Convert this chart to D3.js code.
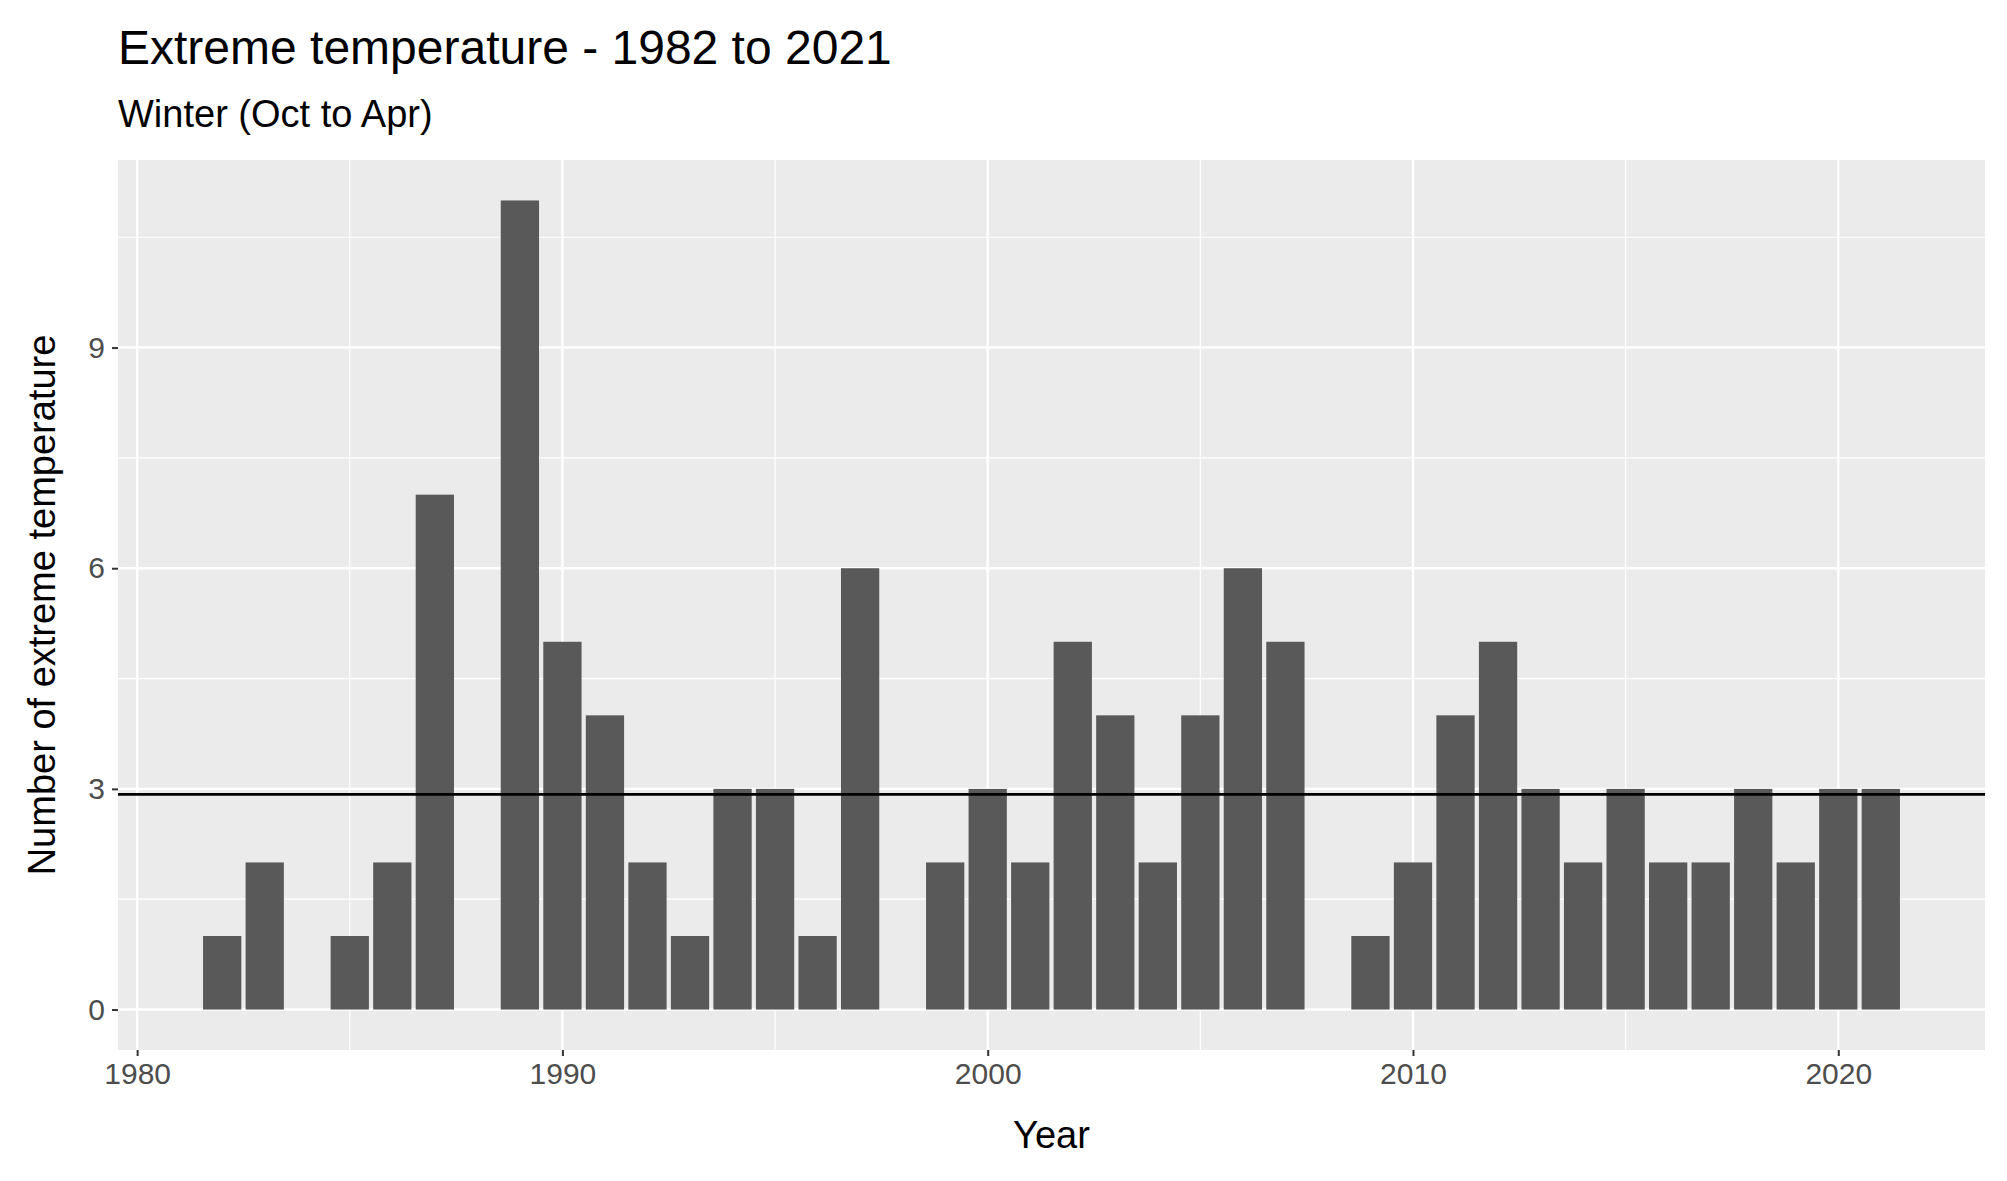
<!DOCTYPE html>
<html><head><meta charset="utf-8">
<script src="https://cdn.jsdelivr.net/npm/d3@7"></script>
<style>body{margin:0;background:#fff}text{font-family:"Liberation Sans",Arial,sans-serif}</style>
</head><body><div id="chart"></div>
<script>
var years = [1982,1983,1985,1986,1987,1989,1990,1991,1992,1993,1994,1995,1996,1997,1999,2000,2001,2002,2003,2004,2005,2006,2007,2009,2010,2011,2012,2013,2014,2015,2016,2017,2018,2019,2020,2021];
var counts = [1,2,1,2,7,11,5,4,2,1,3,3,1,6,2,3,2,5,4,2,4,6,5,1,2,4,5,3,2,3,2,2,3,2,3,3];
var xTicks = [1980,1990,2000,2010,2020];
var yTicks = [0,3,6,9];
var nSeasons = 40; // 1982 to 2021
var meanCount = d3.sum(counts)/nSeasons;

var W=2007,H=1181, L=118,R=1985,T=160,B=1050;
var svg=d3.select("#chart").append("svg").attr("width",W).attr("height",H);
var x=d3.scaleLinear().domain([1979.55,2023.45]).range([L,R]);
var y=d3.scaleLinear().domain([-0.55,11.55]).range([B,T]);

svg.append("rect").attr("x",L).attr("y",T).attr("width",R-L).attr("height",B-T).attr("fill","#ebebeb");
var g=svg.append("g");
// minor grid
var xm=[1985,1995,2005,2015], ym=[1.5,4.5,7.5,10.5];
g.selectAll(".xm").data(xm).enter().append("line").attr("x1",x).attr("x2",x).attr("y1",T).attr("y2",B).attr("stroke","#fff").attr("stroke-width",1.2);
g.selectAll(".ym").data(ym).enter().append("line").attr("y1",y).attr("y2",y).attr("x1",L).attr("x2",R).attr("stroke","#fff").attr("stroke-width",1.2);
g.selectAll(".xM").data(xTicks).enter().append("line").attr("x1",x).attr("x2",x).attr("y1",T).attr("y2",B).attr("stroke","#fff").attr("stroke-width",2.4);
g.selectAll(".yM").data(yTicks).enter().append("line").attr("y1",y).attr("y2",y).attr("x1",L).attr("x2",R).attr("stroke","#fff").attr("stroke-width",2.4);

svg.selectAll(".bar").data(years).enter().append("rect")
 .attr("x",function(d){return x(d-0.45);}).attr("width",x(0.9)-x(0))
 .attr("y",function(d,i){return y(counts[i]);}).attr("height",function(d,i){return y(0)-y(counts[i]);})
 .attr("fill","#595959");

svg.append("line").attr("x1",L).attr("x2",R).attr("y1",y(meanCount)).attr("y2",y(meanCount)).attr("stroke","#000").attr("stroke-width",2.8);

var xa=svg.append("g").attr("transform","translate(0,"+B+")").call(d3.axisBottom(x).tickValues(xTicks).tickFormat(d3.format("d")).tickSize(6).tickPadding(7));
var ya=svg.append("g").attr("transform","translate("+L+",0)").call(d3.axisLeft(y).tickValues(yTicks).tickSize(6).tickPadding(7));
[xa,ya].forEach(function(a){a.select(".domain").remove();a.selectAll("line").attr("stroke","#333").attr("stroke-width",2);a.selectAll("text").attr("fill","#4d4d4d").style("font-size","30px").style("font-family","Liberation Sans, Arial");});

svg.append("text").attr("x",(L+R)/2).attr("y",1148).attr("text-anchor","middle").style("font-size","38px").text("Year");
svg.append("text").attr("transform","translate(55,"+(T+B)/2+") rotate(-90)").attr("text-anchor","middle").style("font-size","38px").text("Number of extreme temperature");
svg.append("text").attr("x",118).attr("y",64).style("font-size","48px").text("Extreme temperature - 1982 to 2021");
svg.append("text").attr("x",118).attr("y",127).style("font-size","38px").text("Winter (Oct to Apr)");
</script></body></html>
